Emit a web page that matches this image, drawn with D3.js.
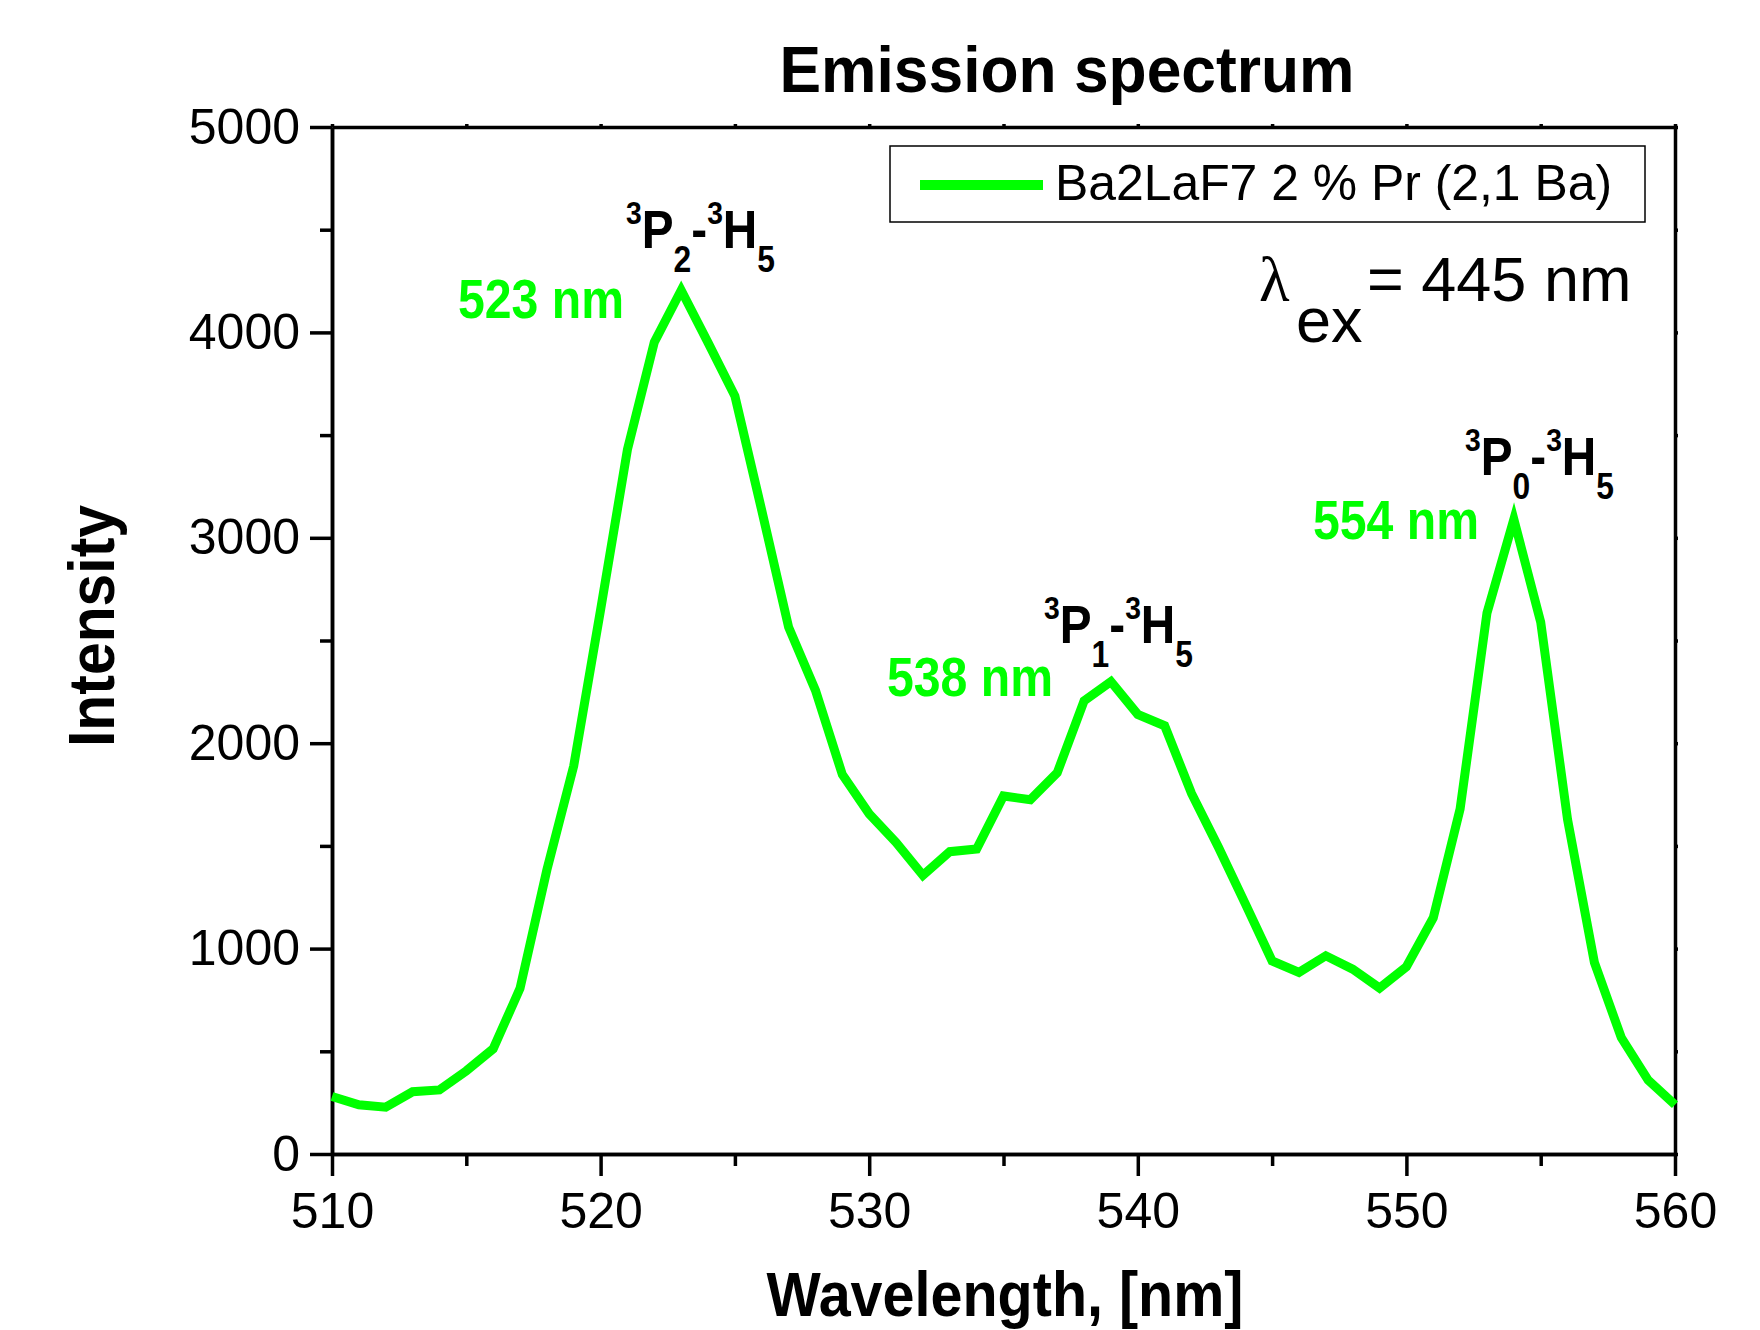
<!DOCTYPE html>
<html>
<head>
<meta charset="utf-8">
<script src="https://cdn.jsdelivr.net/npm/d3@7"></script>
<style>
  body { margin: 0; background: #fff; }
  svg { display: block; font-family: "Liberation Sans", Arial, sans-serif; }
  .axis path, .axis line { stroke: #000; stroke-width: 3.5; }
  .axis text { font-size: 50px; fill: #000; }
</style>
</head>
<body>
<svg id="chart" width="1760" height="1330"></svg>
<script>
// data
const wavelength = [510, 511, 512, 513, 514, 515, 516, 517, 518, 519,
    520, 521, 522, 523, 524, 525, 526, 527, 528, 529,
    530, 531, 532, 533, 534, 535, 536, 537, 538, 539,
    540, 541, 542, 543, 544, 545, 546, 547, 548, 549,
    550, 551, 552, 553, 554, 555, 556, 557, 558, 559, 560]
const intensity = [280, 240, 228, 303, 312, 405, 512, 806, 1383, 1890,
    2650, 3430, 3953, 4205, 3950, 3690, 3133, 2565, 2257, 1847,
    1656, 1517, 1357, 1472, 1485, 1743, 1725, 1856, 2206, 2300,
    2140, 2085, 1755, 1494, 1219, 940, 884, 965, 900, 808,
    912, 1150, 1680, 2634, 3090, 2590, 1628, 932, 567, 360, 240]

const xMajor = [510, 520, 530, 540, 550, 560]
const xMinor = [515, 525, 535, 545, 555]
const yMajor = [0, 1000, 2000, 3000, 4000, 5000]
const yMinor = [500, 1500, 2500, 3500, 4500]

const seriesName = "Ba2LaF7 2 % Pr (2,1 Ba)"
const peakLabels = ["523 nm", "538 nm", "554 nm"]
const transitionSub = ["2", "1", "0"]

const green = "#00ff00"

// plot area
const plotLeft = 332, plotRight = 1675, plotTop = 127, plotBottom = 1154

const svg = d3.select("#chart")
svg.append("rect").attr("width", 1760).attr("height", 1330).attr("fill", "#fff")

const x = d3.scaleLinear().domain([510, 560]).range([plotLeft, plotRight])
const y = d3.scaleLinear().domain([0, 5000]).range([plotBottom, plotTop])

// squeeze text a bit like the original condensed look
const squeeze = (sel, len) => sel.attr("textLength", len).attr("lengthAdjust", "spacingAndGlyphs")

// minor ticks first (no labels)
svg.append("g").attr("class", "axis")
    .attr("transform", `translate(0,${plotBottom})`)
    .call(d3.axisBottom(x).tickValues(xMinor).tickSize(12).tickSizeOuter(0).tickFormat(""))
svg.append("g").attr("class", "axis")
    .attr("transform", `translate(${plotLeft},0)`)
    .call(d3.axisLeft(y).tickValues(yMinor).tickSize(12).tickSizeOuter(0).tickFormat(""))

// frame: top and right with tiny ticks
svg.append("g").attr("class", "axis")
    .attr("transform", `translate(0,${plotTop})`)
    .call(d3.axisTop(x).tickValues(xMajor.concat(xMinor)).tickSize(3).tickSizeOuter(0).tickFormat(""))
svg.append("g").attr("class", "axis")
    .attr("transform", `translate(${plotRight},0)`)
    .call(d3.axisRight(y).tickValues(yMajor.concat(yMinor)).tickSize(3).tickSizeOuter(0).tickFormat(""))

// major axes
svg.append("g").attr("class", "axis")
    .attr("transform", `translate(0,${plotBottom})`)
    .call(d3.axisBottom(x).tickValues(xMajor).tickSize(22).tickPadding(16).tickSizeOuter(0).tickFormat(d3.format("d")))
svg.append("g").attr("class", "axis")
    .attr("transform", `translate(${plotLeft},0)`)
    .call(d3.axisLeft(y).tickValues(yMajor).tickSize(22).tickPadding(10).tickSizeOuter(0).tickFormat(d3.format("d")))

svg.selectAll(".axis text").attr("font-family", "Liberation Sans")

// spectrum line
const points = wavelength.map((w, i) => ({ x: w, y: intensity[i] }))
const line = d3.line().x(d => x(d.x)).y(d => y(d.y))
svg.append("path")
    .datum(points)
    .attr("fill", "none")
    .attr("stroke", green)
    .attr("stroke-width", 9)
    .attr("stroke-linejoin", "miter")
    .attr("d", line)

// titles
svg.append("text").attr("x", 1067).attr("y", 92)
    .attr("text-anchor", "middle").attr("font-size", 64).attr("font-weight", "bold")
    .text("Emission spectrum").call(squeeze, 575)
svg.append("text").attr("x", 1005).attr("y", 1316)
    .attr("text-anchor", "middle").attr("font-size", 63).attr("font-weight", "bold")
    .text("Wavelength, [nm]").call(squeeze, 477)
svg.append("text").attr("transform", "translate(114,626) rotate(-90)")
    .attr("text-anchor", "middle").attr("font-size", 64).attr("font-weight", "bold")
    .text("Intensity").call(squeeze, 242)

// legend
svg.append("rect").attr("x", 890).attr("y", 146).attr("width", 755).attr("height", 76)
    .attr("fill", "#fff").attr("stroke", "#000").attr("stroke-width", 1.5)
svg.append("line").attr("x1", 920).attr("x2", 1043).attr("y1", 185).attr("y2", 185)
    .attr("stroke", green).attr("stroke-width", 10)
svg.append("text").attr("x", 1055).attr("y", 200).attr("font-size", 50)
    .text(seriesName).call(squeeze, 557)

// excitation wavelength
const ex = svg.append("text").attr("font-size", 63)
ex.append("tspan").attr("x", 1259).attr("y", 301).attr("font-family", "Liberation Serif").text("λ")
ex.append("tspan").attr("x", 1296).attr("y", 342).text("ex")
ex.append("tspan").attr("x", 1367).attr("y", 301).text("= 445 nm")

// peak annotations
const peakPos = [[458, 318], [887, 696], [1313, 539]]
const transPos = [[626, 248], [1044, 643], [1465, 475]]

peakLabels.forEach((t, i) => {
    svg.append("text").attr("x", peakPos[i][0]).attr("y", peakPos[i][1])
        .attr("font-size", 56).attr("font-weight", "bold").attr("fill", green)
        .text(t).call(squeeze, 166)

    const tr = svg.append("text").attr("x", transPos[i][0]).attr("y", transPos[i][1])
        .attr("font-weight", "bold").attr("fill", "#000")
    tr.append("tspan").attr("font-size", 32).attr("dy", -24).text("3")
    tr.append("tspan").attr("font-size", 54).attr("dy", 24).text("P")
    tr.append("tspan").attr("font-size", 36).attr("dy", 24).text(transitionSub[i])
    tr.append("tspan").attr("font-size", 54).attr("dy", -24).text("-")
    tr.append("tspan").attr("font-size", 32).attr("dy", -24).text("3")
    tr.append("tspan").attr("font-size", 54).attr("dy", 24).text("H")
    tr.append("tspan").attr("font-size", 36).attr("dy", 24).text("5")
    tr.call(squeeze, 149)
})
</script>
</body>
</html>
